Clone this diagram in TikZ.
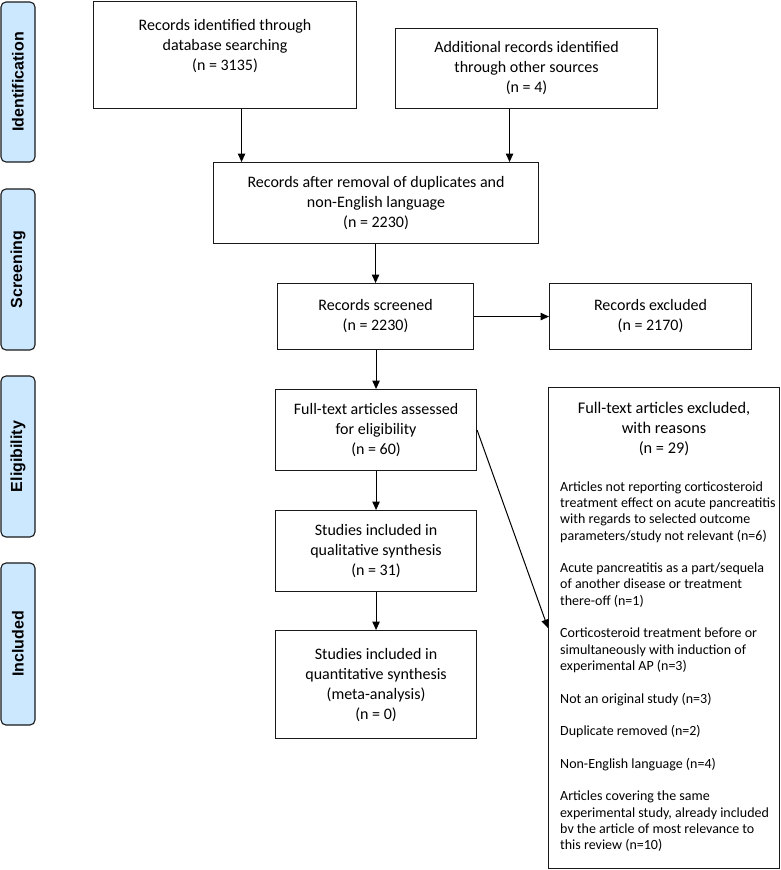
\documentclass[tikz,border=0pt]{standalone}
\usepackage{fontspec}
\setmainfont{Carlito}
\newfontfamily\phasefont{Liberation Sans}
\usetikzlibrary{arrows.meta}
\definecolor{phasefill}{RGB}{204,232,255}
\definecolor{linegray}{RGB}{25,25,25}
\begin{document}
\begin{tikzpicture}[x=1pt,y=-1pt,
  flowbox/.style={draw=linegray, line width=1.1pt, align=center, anchor=north west,
    inner sep=0pt, font=\fontsize{16}{20}\selectfont},
  phase/.style={draw=linegray, line width=1.1pt, fill=phasefill, rounded corners=5pt,
    rotate=90, inner sep=0pt, minimum height=34pt,
    font=\phasefont\bfseries\fontsize{16}{18}\selectfont},
  flowarrow/.style={-{Triangle[length=8.5pt,width=7.5pt]}, line width=1pt, draw=black}]
\useasboundingbox (0,0) rectangle (780,870);

% phase labels
\node[phase, minimum width=160pt] (pid) at (18,82) {Identification};
\node[phase, minimum width=161pt] (psc) at (18,269.5) {Screening};
\node[phase, minimum width=161pt] (pel) at (18,456.5) {Eligibility};
\node[phase, minimum width=162pt] (pin) at (18,644) {Included};

% flow boxes
\node[flowbox, minimum width=263pt, minimum height=107pt] (A) at (93,1)
  {Records identified through\\database searching\\(n = 3135)\\ \mbox{}};
\node[flowbox, minimum width=262pt, minimum height=80pt] (B) at (395,28)
  {Additional records identified\\through other sources\\(n = 4)};
\node[flowbox, minimum width=325pt, minimum height=81pt] (C) at (213,162)
  {Records after removal of duplicates and\\non-English language\\(n = 2230)};
\node[flowbox, minimum width=196pt, minimum height=66pt] (D) at (277,283)
  {Records screened\\(n = 2230)};
\node[flowbox, minimum width=202pt, minimum height=66pt] (E) at (549,283)
  {Records excluded\\(n = 2170)};
\node[flowbox, minimum width=201pt, minimum height=81pt] (F) at (275,389)
  {Full-text articles assessed\\for eligibility\\(n = 60)};
\node[flowbox, minimum width=201pt, minimum height=81pt] (G) at (275,510)
  {Studies included in\\qualitative synthesis\\(n = 31)};
\node[flowbox, minimum width=201pt, minimum height=108pt] (H) at (275,630)
  {Studies included in\\quantitative synthesis\\(meta-analysis)\\(n = 0)};
\node[flowbox, minimum width=231pt, minimum height=481pt] (I) at (548,387) {};
\node[align=center, inner sep=0pt, font=\fontsize{16.3}{20}\selectfont] (Ititle) at (664,429)
  {Full-text articles excluded,\\with reasons\\(n = 29)};
\node[align=left, anchor=west, inner sep=0pt, font=\fontsize{14}{16.3}\selectfont] (Ireasons) at (560,666.5)
  {Articles not reporting corticosteroid\\treatment effect on acute pancreatitis\\with regards to selected outcome\\parameters/study not relevant (n=6)\\[16.3pt]
  Acute pancreatitis as a part/sequela\\of another disease or treatment\\there-off (n=1)\\[16.3pt]
  Corticosteroid treatment before or\\simultaneously with induction of\\experimental AP (n=3)\\[16.3pt]
  Not an original study (n=3)\\[16.3pt]
  Duplicate removed (n=2)\\[16.3pt]
  Non-English language (n=4)\\[16.3pt]
  Articles covering the same\\experimental study, already included\\bv the article of most relevance to\\this review (n=10)};

% connectors
\draw[flowarrow] ([xshift=16.5pt]A.south) -- ([xshift=16.5pt]A.south |- C.north);
\draw[flowarrow] ([xshift=-17pt]B.south) -- ([xshift=-17pt]B.south |- C.north);
\draw[flowarrow] (C.south -| D.north) -- (D.north);
\draw[flowarrow] (D.east) -- (E.west);
\draw[flowarrow] (D.south -| F.north) -- (F.north);
\draw[flowarrow] (F.south) -- (G.north);
\draw[flowarrow] (G.south) -- (H.north);
\draw[flowarrow] (F.east) -- (I.west);
\end{tikzpicture}
\end{document}
